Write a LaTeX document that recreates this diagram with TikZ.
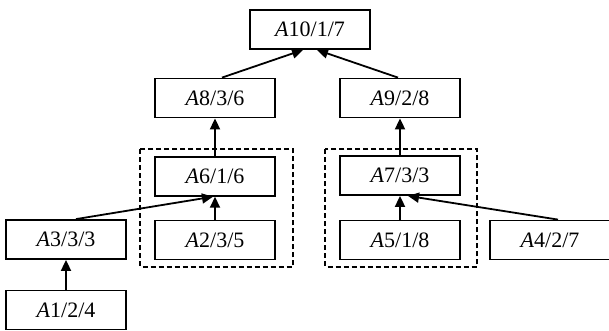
\documentclass[tikz,border=0pt]{standalone}
\usepackage{fontspec}
\setmainfont{Liberation Serif}
\usetikzlibrary{arrows.meta}
\tikzset{
	blk/.style={draw, line width=1.8pt, minimum width=120pt, minimum height=39pt, inner sep=0pt, font=\fontsize{22}{24}\selectfont},
	up/.style={-{Triangle[length=11pt,width=10pt]}, line width=1.8pt},
}
\begin{document}
\begin{tikzpicture}[x=1pt,y=-1pt]
		\useasboundingbox (0,0) rectangle (609,330);
		% blocks: name/x/y/label
		\foreach \n/\x/\y/\t in {a10/310/29.5/{10/1/7}, a8/215/98/{8/3/6}, a9/400/98/{9/2/8},
				a6/215/176.3/{6/1/6}, a2/215/240/{2/3/5}, a7/400/175.5/{7/3/3}, a5/400/240/{5/1/8},
				a3/66/239.5/{3/3/3}, a4/550/240/{4/2/7}, a1/66/310/{1/2/4}}{
			\node[blk] (\n) at (\x,\y) {\textit{A}\t};
		}
		
		% groups
		\draw[line width=1.8pt, dash pattern=on 5pt off 3pt] (140,149.3) rectangle (293.3,266.7);
		\draw[line width=1.8pt, dash pattern=on 5pt off 3pt] (325,149.3) rectangle (477.3,266.7);
		
		\draw[up] ([xshift=7pt]a8.north) -- ([xshift=-7pt]a10.south);
		\draw[up] ([xshift=-2pt]a9.north) -- ([xshift=7pt]a10.south);
		\draw[up] (a6) -- (a8);
		\draw[up] (a7) -- (a9);
		\draw[up] (a2) -- (a6);
		\draw[up] (a5) -- (a7);
		\draw[up] ([xshift=10pt]a3.north) -- ([xshift=-2pt]a6.south);
		\draw[up] ([xshift=8pt]a4.north) -- ([xshift=8pt]a7.south);
		\draw[up] (a1) -- (a3);
\end{tikzpicture}
\end{document}
